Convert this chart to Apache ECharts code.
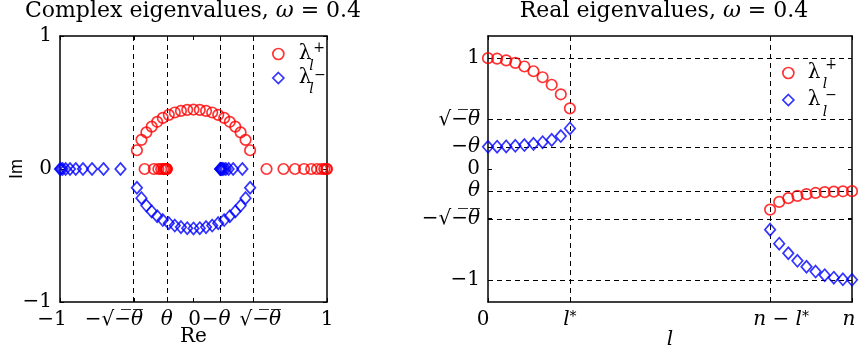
<!DOCTYPE html>
<html>
<head>
<meta charset="utf-8">
<script src="https://cdn.jsdelivr.net/npm/echarts@6/dist/echarts.min.js"></script>
<style>
html,body{margin:0;padding:0;background:#fff}
#chart{width:859px;height:354px}
</style>
</head>
<body>
<div id="chart"></div>
<script>
// Index l of the eigenvalue pairs that stay real (both ends of the spectrum)
const realIdx = [0, 1, 2, 3, 4, 5, 6, 7, 8, 9, 31, 32, 33, 34, 35, 36, 37, 38, 39, 40];
const realPlus = [1.00, 0.995, 0.98, 0.958, 0.925, 0.882, 0.828, 0.76, 0.674, 0.547,
                  -0.366, -0.297, -0.263, -0.242, -0.227, -0.216, -0.209, -0.204, -0.201, -0.20];
const realMinus = [0.20, 0.201, 0.204, 0.209, 0.216, 0.227, 0.242, 0.263, 0.297, 0.366,
                   -0.547, -0.674, -0.76, -0.828, -0.882, -0.925, -0.958, -0.981, -0.995, -1.00];

// Pairs l = 10 .. 30 are complex conjugates on the circle |lambda| = sqrt(-theta)
const complexIdx = [10, 11, 12, 13, 14, 15, 16, 17, 18, 19, 20, 21, 22, 23, 24, 25, 26, 27, 28, 29, 30];
const complexRe = [0.424, 0.39, 0.353, 0.313, 0.272, 0.23, 0.185, 0.14, 0.094, 0.047, 0,
                   -0.047, -0.094, -0.14, -0.185, -0.23, -0.272, -0.313, -0.353, -0.39, -0.424];
const complexIm = [0.141, 0.219, 0.275, 0.319, 0.355, 0.384, 0.407, 0.425, 0.437, 0.445, 0.447,
                   0.445, 0.437, 0.425, 0.407, 0.384, 0.355, 0.319, 0.275, 0.219, 0.141];

// Ticks and their labels
const reTicks = [-1, -0.447, -0.2, 0, 0.2, 0.447, 1];
const reTickLabels = ['−1', '−√−θ', 'θ', '0', '−θ', '√−θ', '1'];
const imTicks = [-1, 0, 1];
const imTickLabels = ['−1', '0', '1'];
const lTicks = [0, 9, 31, 40];
const lTickLabels = ['0', 'l*', 'n − l*', 'n'];
const valTicks = [-1, -0.447, -0.2, 0, 0.2, 0.447, 1];
const valTickLabels = ['−1', '−√−θ', 'θ', '0', '−θ', '√−θ', '1'];

// Dashed reference lines
const reGuides = [-0.447, -0.2, 0.2, 0.447];
const lGuides = [9, 31];
const valGuides = [-1, -0.447, -0.2, 0.2, 0.447, 1];

const SERIF = 'DejaVu Serif';
const SANS = 'Liberation Sans';
const BAR = '\u0305';
const TICK_FS = 20;

// Horizontal nudges of individual tick labels (px)
const reLabelShift = [-8, -20, 0, 1, -4, 7, 0];
const lLabelShift = [-5, 0, 11, -2];

const rich = {
  rm: {fontFamily: SERIF, fontSize: TICK_FS, color: '#000'},
  it: {fontFamily: SERIF, fontSize: TICK_FS, fontStyle: 'italic', color: '#000'},
  sup: {fontFamily: SERIF, fontSize: 14, color: '#000', verticalAlign: 'top'}
};
[2, 8, 10, 14, 16, 22, 40].forEach(w => { rich['w' + w] = {width: w, fontSize: 4}; });

// Turn a plain math label into rich text: italic symbols, radical bar, superscript star
function tex(s) {
  let out = '', bar = false;
  for (const c of s) {
    if (c === '√') { out += '{rm|√}'; bar = true; continue; }
    const t = bar ? c + BAR : c;
    if ('θlnω'.includes(c)) out += '{it|' + t + '}';
    else if (c === '*') out += '{sup|' + t + '}';
    else out += '{rm|' + t + '}';
  }
  return out;
}
function shifted(markup, dx) {
  if (!dx) return markup;
  const w = Math.abs(dx) * 2;
  return dx < 0 ? markup + '{w' + w + '| }' : '{w' + w + '| }' + markup;
}
function labeler(ticks, labels, shifts) {
  return function (v) {
    const i = ticks.findIndex(t => Math.abs(t - v) < 1e-6);
    if (i < 0) return '';
    return shifted(tex(labels[i]), shifts ? shifts[i] : 0);
  };
}

function axis(o) {
  return {
    type: 'value',
    gridIndex: o.grid,
    position: o.pos,
    min: o.min, max: o.max,
    name: o.name || '',
    nameLocation: 'middle',
    nameGap: o.nameGap || 0,
    nameRotate: o.nameRotate,
    nameMoveOverlap: false,
    nameTextStyle: o.nameStyle,
    axisLine: {show: true, onZero: false, lineStyle: {color: '#000', width: 1.5}},
    axisTick: {show: true, inside: true, length: 4, customValues: o.ticks,
               lineStyle: {color: '#000', width: 1}},
    axisLabel: {
      show: !!o.labels, customValues: o.ticks, margin: o.margin || 8,
      formatter: o.labels ? labeler(o.ticks, o.labels, o.shifts) : '',
      color: '#000', fontFamily: SERIF, fontSize: TICK_FS,
      showMinLabel: true, showMaxLabel: true, hideOverlap: false, rich: rich
    },
    splitLine: {show: false},
    splitArea: {show: false}
  };
}

const dashed = {type: [5, 4], color: '#000', width: 1};

const circleStyle = {color: 'rgba(0,0,0,0)', borderColor: '#ff0000', borderWidth: 1.7};
const diamondStyle = {color: 'rgba(0,0,0,0)', borderColor: '#0000ff', borderWidth: 1.7};

const leftPlus = complexRe.map((r, i) => [r, complexIm[i]]).concat(realPlus.map(v => [v, 0]));
const leftMinus = complexRe.map((r, i) => [r, -complexIm[i]]).concat(realMinus.map(v => [v, 0]));
const rightPlus = realIdx.map((l, i) => [l, realPlus[i]]);
const rightMinus = realIdx.map((l, i) => [l, realMinus[i]]);

function scatter(name, xi, yi, data, sym, marks) {
  const s = {
    type: 'scatter', name: name, xAxisIndex: xi, yAxisIndex: yi, data: data,
    symbol: sym, symbolSize: sym === 'diamond' ? [10.5, 12] : 10.5,
    itemStyle: sym === 'diamond' ? diamondStyle : circleStyle,
    clip: false, silent: true, z: 3
  };
  if (marks) {
    s.markLine = {symbol: ['none', 'none'], silent: true, label: {show: false},
                  lineStyle: dashed, emphasis: {disabled: true}, data: marks, z: 2};
  }
  return s;
}

function legendFor(left, top, gap, pad) {
  return {
    orient: 'vertical', left: left, top: top, itemGap: gap,
    itemWidth: 11, itemHeight: 11, selectedMode: false, padding: 0,
    data: [
      {name: 'lp', icon: 'circle', itemStyle: circleStyle},
      {name: 'lm', icon: 'diamond', itemStyle: diamondStyle}
    ],
    formatter: () => '{l|λ}',
    textStyle: {rich: {l: {fontFamily: SERIF, fontSize: 20, color: '#000', padding: [0, 0, 0, pad]}}}
  };
}

function script(txt, x, y, italic) {
  return {type: 'text', x: x, y: y, silent: true,
          style: {text: txt, fill: '#000', font: (italic ? 'italic ' : '') + '14px "' + SERIF + '"',
                  textAlign: 'center', textVerticalAlign: 'middle'}};
}

const titleStyle = {fontFamily: SERIF, fontSize: 22, fontWeight: 'normal', color: '#000',
                    rich: {it: {fontFamily: SERIF, fontSize: 22, fontStyle: 'italic', color: '#000'}}};

const option = {
  animation: false,
  backgroundColor: '#fff',
  title: [
    {text: 'Complex eigenvalues, {it|ω} = 0.4', left: 193, top: 0, textAlign: 'center', padding: 0, textStyle: titleStyle},
    {text: 'Real eigenvalues, {it|ω} = 0.4', left: 664, top: 0, textAlign: 'center', padding: 0, textStyle: titleStyle}
  ],
  grid: [
    {left: 60, top: 36, width: 267, height: 266, containLabel: false, outerBoundsMode: 'none'},
    {left: 488, top: 36, width: 364, height: 266, containLabel: false, outerBoundsMode: 'none'}
  ],
  xAxis: [
    axis({grid: 0, pos: 'bottom', min: -1, max: 1, ticks: reTicks, labels: reTickLabels, shifts: reLabelShift,
          name: 'Re', nameGap: 25, nameStyle: {fontFamily: SERIF, fontSize: 20, color: '#000'}}),
    axis({grid: 0, pos: 'top', min: -1, max: 1, ticks: reTicks}),
    axis({grid: 1, pos: 'bottom', min: 0, max: 40, ticks: lTicks, labels: lTickLabels, shifts: lLabelShift,
          name: '{it|l}', nameGap: 28, nameStyle: {fontFamily: SERIF, fontSize: 20, color: '#000', rich: rich}}),
    axis({grid: 1, pos: 'top', min: 0, max: 40, ticks: lTicks})
  ],
  yAxis: [
    axis({grid: 0, pos: 'left', min: -1, max: 1, ticks: imTicks, labels: imTickLabels,
          name: 'Im', nameGap: 34, nameRotate: 90, nameStyle: {fontFamily: SANS, fontSize: 18, color: '#000'}}),
    axis({grid: 0, pos: 'right', min: -1, max: 1, ticks: imTicks}),
    axis({grid: 1, pos: 'left', min: -1.2, max: 1.2, ticks: valTicks, labels: valTickLabels}),
    axis({grid: 1, pos: 'right', min: -1.2, max: 1.2, ticks: valTicks})
  ],
  legend: [legendFor(272, 44, 4, 10), legendFor(782, 63, 7, 9)],
  series: [
    scatter('lp', 0, 0, leftPlus, 'circle', reGuides.map(v => ({xAxis: v}))),
    scatter('lm', 0, 0, leftMinus, 'diamond'),
    scatter('lp', 2, 2, rightPlus, 'circle',
            lGuides.map(v => ({xAxis: v})).concat(valGuides.map(v => ({yAxis: v})))),
    scatter('lm', 2, 2, rightMinus, 'diamond')
  ],
  graphic: [
    script('+', 319, 48), script('l', 311.5, 66.5, true),
    script('−', 320, 75), script('l', 311.5, 89, true),
    script('+', 831, 65.5), script('l', 825, 84, true),
    script('−', 831, 95), script('l', 825, 112.5, true)
  ]
};

const chart = echarts.init(document.getElementById('chart'), null, {renderer: 'canvas'});
chart.setOption(option);
</script>
</body>
</html>
